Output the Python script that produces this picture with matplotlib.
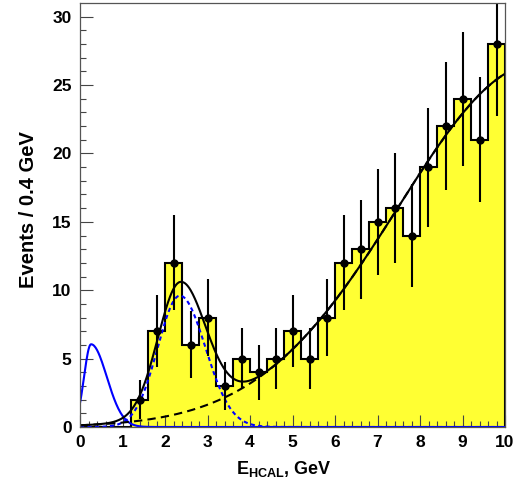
import numpy as np
import matplotlib
matplotlib.use("Agg")
import matplotlib.pyplot as plt

plt.rcParams['font.family'] = ['Liberation Sans', 'DejaVu Sans']
plt.rcParams['mathtext.fontset'] = 'custom'
plt.rcParams['mathtext.rm'] = 'Liberation Sans:bold'
plt.rcParams['mathtext.bf'] = 'Liberation Sans:bold'
plt.rcParams['mathtext.it'] = 'Liberation Sans:bold'

# ---- data ----
bin_edges = np.linspace(0.0, 10.0, 26)          # 0.4 GeV bins
counts = [0, 0, 0, 2, 7, 12, 6, 8, 3, 5, 4, 5, 7, 5, 8, 12, 13, 15, 16, 14, 19, 22, 24, 21, 28]

# fit components (estimated parameters)
bkg_amp, bkg_mean, bkg_sigma = 26.6, 10.8, 3.3
sig_amp, sig_mean, sig_sigma_l, sig_sigma_r = 9.6, 2.35, 0.52, 0.60
mip_amp, mip_mean, mip_sigma_l, mip_sigma_r = 6.05, 0.26, 0.165, 0.37

x_ticks = [0, 1, 2, 3, 4, 5, 6, 7, 8, 9, 10]
y_ticks = [0, 5, 10, 15, 20, 25, 30]


def bifur_gauss(x, a, m, sl, sr):
    s = np.where(x < m, sl, sr)
    return a * np.exp(-0.5 * ((x - m) / s) ** 2)


counts = np.array(counts, dtype=float)
centers = 0.5 * (bin_edges[:-1] + bin_edges[1:])

fig = plt.figure(figsize=(5.26, 4.91), dpi=100)
ax = fig.add_axes([80 / 526, 1 - 427 / 491, 425 / 526, 424 / 491])

yellow = '#ffff33'
ax.stairs(counts, bin_edges, fill=True, color=yellow, zorder=1)
ax.stairs(counts, bin_edges, color='black', linewidth=1.5, zorder=2)

xs = np.linspace(0, 10, 600)
bkg = bifur_gauss(xs, bkg_amp, bkg_mean, bkg_sigma, bkg_sigma)
sig = bifur_gauss(xs, sig_amp, sig_mean, sig_sigma_l, sig_sigma_r)
mip = bifur_gauss(xs, mip_amp, mip_mean, mip_sigma_l, mip_sigma_r)
total = bkg + sig

ax.plot(xs, mip, color='#0000ff', lw=1.5, zorder=3)
ax.plot(xs, sig, color='#0000ff', lw=1.5, ls=(0, (2.0, 1.6)), zorder=3)
ax.plot(xs, bkg, color='black', lw=1.5, ls=(0, (4.0, 2.5)), zorder=3)
ax.plot(xs, total, color='black', lw=1.5, zorder=4)

m = counts > 0
ax.errorbar(centers[m], counts[m], yerr=np.sqrt(counts[m]), fmt='o', color='black',
            ms=5, elinewidth=1.5, capsize=0, zorder=5)

ax.set_xlim(0, 10)
ax.set_ylim(0, 31)
ax.set_xticks(x_ticks)
ax.set_yticks(y_ticks)
ax.set_xticks(np.arange(0, 10.01, 0.2), minor=True)
ax.set_yticks(np.arange(0, 31, 1), minor=True)
ax.tick_params(which='both', direction='in', color='#444444', top=False, right=False)
ax.tick_params(which='major', length=9, width=0.8, labelsize=12.5, pad=6)
ax.tick_params(which='minor', length=4.5, width=0.8)
for lab in ax.get_xticklabels() + ax.get_yticklabels():
    lab.set_fontweight('bold')
for sp in ax.spines.values():
    sp.set_color('#555555')
    sp.set_linewidth(0.9)
    sp.set_zorder(6)

ax.set_ylabel('Events / 0.4 GeV', fontsize=14.5, fontweight='bold')
ax.set_xlabel(r'E$_{\mathbf{HCAL}}$, GeV', fontsize=13, fontweight='bold')
ax.yaxis.set_label_coords(-0.1, 0.514)
ax.xaxis.set_label_coords(0.479, -0.076)

fig.savefig('out.png', dpi=100)
